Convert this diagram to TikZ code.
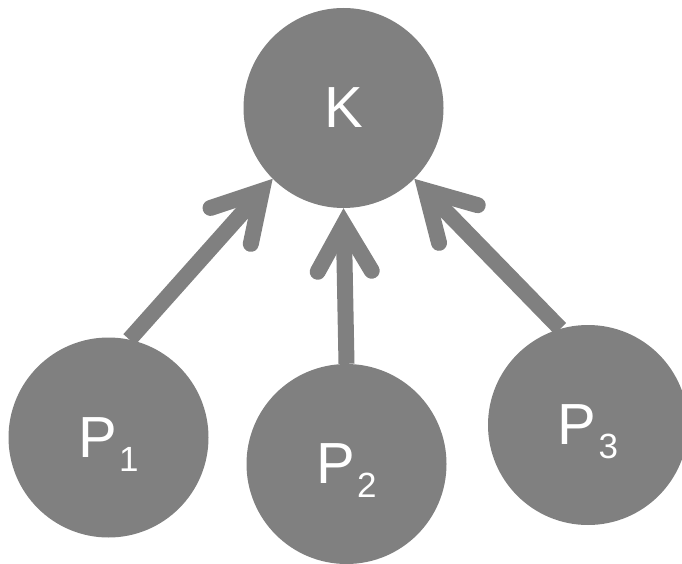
\documentclass[tikz,border=0pt]{standalone}
\usepackage{fontspec}
\setmainfont{Liberation Sans}
\usetikzlibrary{arrows.meta}
\newcommand{\psub}[1]{P\kern2pt\smash{\raisebox{-14pt}{\fontsize{35}{35}\selectfont #1}}}
\begin{document}
\begin{tikzpicture}[x=1pt,y=-1pt,
  ball/.style={circle,fill=gray,draw=none,inner sep=0pt,minimum size=200pt,text=white,font=\fontsize{58}{58}\selectfont},
  link/.style={draw=gray,line width=16pt,-{Straight Barb[length=47pt,width=54pt,line cap=round,line join=miter]}}]
\useasboundingbox (0,0) rectangle (682,564);
\node[ball] (K) at (343.5,108) {K};
\node[ball] (P1) at (108.5,437.5) {\psub{1}};
\node[ball] (P2) at (346.5,464) {\psub{2}};
\node[ball] (P3) at (588,425) {\psub{3}};
\draw[link] (P1.78) -- (K.225);
\draw[link] (P2.90) -- (K.270);
\draw[link] (P3.106) -- (K.-45);
\end{tikzpicture}
\end{document}
